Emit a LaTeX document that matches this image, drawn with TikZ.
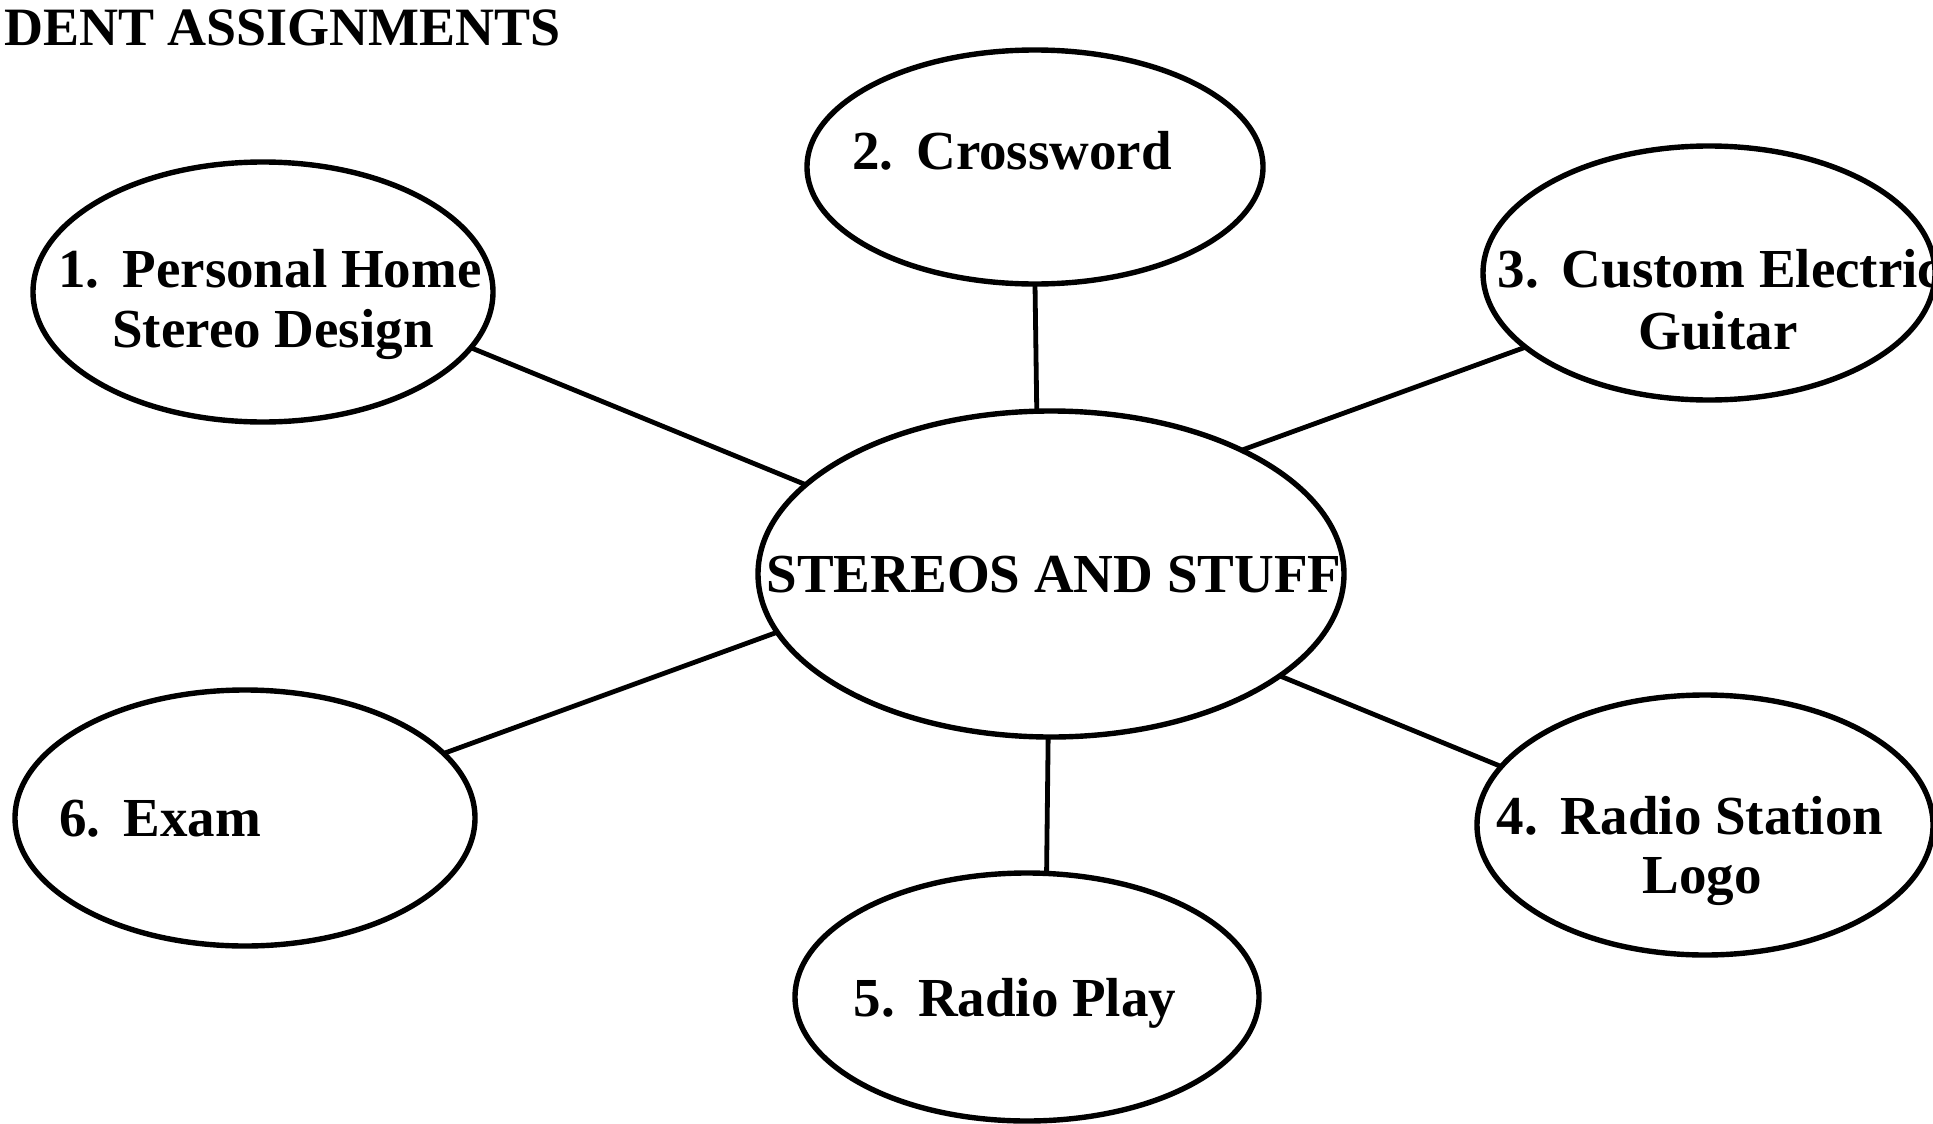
\documentclass[tikz,border=0pt]{standalone}
\usepackage{fontspec}
\setmainfont{Liberation Serif}
\usetikzlibrary{shapes.geometric}
\newcommand{\pgap}{\hspace{0.42em}}
\begin{document}
\begin{tikzpicture}[x=0.5pt,y=-0.5pt,
  bub/.style={draw, ellipse, line width=2.7pt, inner sep=0pt, outer sep=0pt},
  link/.style={line width=2.4pt},
  lbl/.style={font=\bfseries\fontsize{27.5}{30}\selectfont, inner sep=0pt, anchor=base}]
\useasboundingbox (0,0) rectangle (1933,1124);
% title
\node[lbl, anchor=base west, font=\bfseries\fontsize{27}{30}\selectfont] (title) at (4,46) {DENT ASSIGNMENTS};
% ellipses
\node[bub, minimum width=293pt, minimum height=163pt] (c)  at (1051,574) {};
\node[bub, minimum width=228pt, minimum height=117pt] (cr) at (1035,167) {};
\node[bub, minimum width=230pt, minimum height=130pt] (e1) at (263,292) {};
\node[bub, minimum width=226pt, minimum height=127pt] (e3) at (1709,273) {};
\node[bub, minimum width=228pt, minimum height=130pt] (e4) at (1705,825) {};
\node[bub, minimum width=232pt, minimum height=124pt] (e5) at (1027,997) {};
\node[bub, minimum width=230pt, minimum height=128pt] (e6) at (245,818) {};
% texts
\node[lbl] (tc)  at (1054,592) {STEREOS AND STUFF};
\node[lbl] (tcr) at (1012,169) {2.\pgap Crossword};
\node[lbl] (t1a) at (270,287) {1.\pgap Personal Home};
\node[lbl] (t1b) at (273,347) {Stereo Design};
\node[lbl] (t3a) at (1720,287) {3.\pgap Custom Electric};
\node[lbl] (t3b) at (1718,349) {Guitar};
\node[lbl] (t4a) at (1690,834) {4.\pgap Radio Station};
\node[lbl] (t4b) at (1702,893) {Logo};
\node[lbl] (t5)  at (1015,1016) {5.\pgap Radio Play};
\node[lbl, anchor=base west] (t6) at (59,836) {6.\pgap Exam};
% connectors
\draw[link] (e1.-15) -- (c.160);
\draw[link] (cr.south) -- (c.95);
\draw[link] (e3.202) -- (c.33);
\draw[link] (e6.18) -- (c.192);
\draw[link] (e4.164) -- (c.-24);
\draw[link] (e5.81) -- (c.-91);
\end{tikzpicture}
\end{document}
